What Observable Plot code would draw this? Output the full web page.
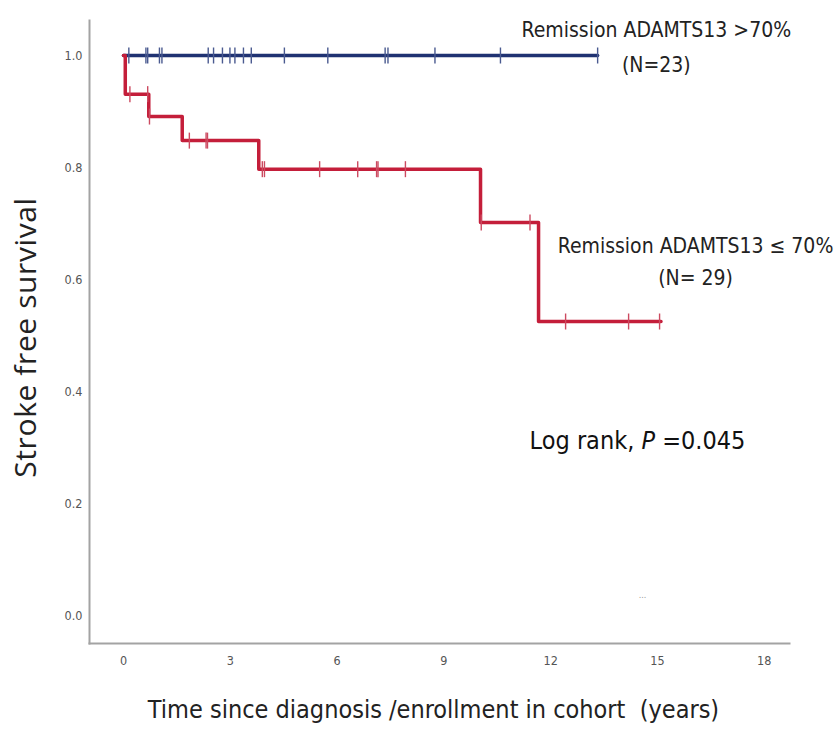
<!DOCTYPE html>
<html>
<head>
<meta charset="utf-8">
<script src="https://cdn.jsdelivr.net/npm/d3@7"></script>
<script src="https://cdn.jsdelivr.net/npm/@observablehq/plot@0.6"></script>
<style>
  html, body { margin: 0; padding: 0; background: #fff; }
  #chart svg { display: block; }
</style>
</head>
<body>
<div id="chart"></div>
<script>
// ---- Data ----
// Group 1: Remission ADAMTS13 >70% (N=23) — no events
const highTimes = [0];
const highSurv = [1.0];
const highEnd = 13.32;
const highCensor = [0.15, 0.63, 0.68, 1.01, 1.08, 2.38, 2.53, 2.78, 2.99, 3.13, 3.37, 3.59,
                    4.52, 5.74, 7.35, 7.43, 8.75, 10.59, 13.32];

// Group 2: Remission ADAMTS13 <= 70% (N=29)
const lowTimes = [0, 0.05, 0.71, 1.65, 3.80, 10.03, 11.66];
const lowSurv = [1.0, 0.931, 0.891, 0.848, 0.797, 0.702, 0.525];
const lowEnd = 15.1;
const lowCensor = [0.18, 0.68, 0.73, 1.85, 2.32, 2.36, 3.90, 3.96, 5.51, 6.58, 7.11, 7.15, 7.92,
                   10.05, 11.42, 12.42, 14.19, 15.06];

const xTicks = [0, 3, 6, 9, 12, 15, 18];
const yTicks = [0, 0.2, 0.4, 0.6, 0.8, 1.0];

const highLabel = ["Remission ADAMTS13 >70%", "(N=23)"];
const lowLabel = ["Remission ADAMTS13 \u2264 70%", "(N= 29)"];
const testLabel = "Log rank, P =0.045";
const xTitle = "Time since diagnosis /enrollment in cohort  (years)";
const yTitle = "Stroke free survival";

// ---- Build tables ----
function steps(times, surv, end, group) {
  const rows = times.map((t, i) => ({t, s: surv[i], group}));
  rows.push({t: end, s: surv[surv.length - 1], group});
  return rows;
}
function survAt(times, surv, t) {
  let s = surv[0];
  for (let i = 0; i < times.length; i++) if (times[i] <= t) s = surv[i];
  return s;
}
const curves = [...steps(highTimes, highSurv, highEnd, "high"), ...steps(lowTimes, lowSurv, lowEnd, "low")];
const censors = [
  ...highCensor.map(t => ({t, s: survAt(highTimes, highSurv, t), group: "high"})),
  ...lowCensor.map(t => ({t, s: survAt(lowTimes, lowSurv, t), group: "low"}))
];

const colors = {high: "#1f3272", low: "#c41e3a"};
const tickColors = {high: "#4a5a90", low: "#cc4a60"};

const vbar = { draw(ctx, size) { const h = Math.sqrt(size / Math.PI); ctx.moveTo(0, -h); ctx.lineTo(0, h); } };

const narrow = "'Liberation Sans Narrow', 'DejaVu Sans Condensed', 'Liberation Sans', sans-serif";

const chart = Plot.plot({
  width: 834,
  height: 736,
  marginLeft: 89,
  marginRight: 45,
  marginTop: 20,
  marginBottom: 93,
  x: {domain: [-0.955, 18.71]},
  y: {domain: [-0.05, 1.0625]},
  style: {background: "#fff", fontFamily: narrow},
  marks: [
    Plot.axisY({ticks: yTicks, tickFormat: d3.format(".1f"), tickSize: 0, tickPadding: 7,
                fontSize: 12.5, fill: "#555", label: null}),
    Plot.axisX({ticks: xTicks, tickSize: 0, tickPadding: 13, fontSize: 12.5, fill: "#555", label: null}),
    Plot.frame({anchor: "left", stroke: "#a3a3a3", strokeWidth: 2}),
    Plot.frame({anchor: "bottom", stroke: "#a3a3a3", strokeWidth: 2}),
    Plot.line(curves, {x: "t", y: "s", z: "group", curve: "step-after",
                       stroke: d => colors[d.group], strokeWidth: 3.5}),
    Plot.dot(censors, {x: "t", y: "s", symbol: vbar, r: 8, strokeWidth: 1.4,
                       stroke: d => tickColors[d.group]}),
    Plot.text([highLabel[0]], {x: 14.97, y: 1.045, fontSize: 21, fill: "#222", fontFamily: narrow}),
    Plot.text([highLabel[1]], {x: 14.97, y: 0.982, fontSize: 21, fill: "#222", fontFamily: narrow}),
    Plot.text([lowLabel[0]], {x: 16.07, y: 0.659, fontSize: 21, fill: "#222", fontFamily: narrow}),
    Plot.text([lowLabel[1]], {x: 16.07, y: 0.602, fontSize: 21, fill: "#222", fontFamily: narrow}),
    Plot.text([testLabel], {x: 14.44, y: 0.3125, fontSize: 25, fill: "#111", fontFamily: narrow}),
    Plot.text(["..."], {x: 14.58, y: 0.036, fontSize: 9, fill: "#999"}),
    Plot.text([yTitle], {frameAnchor: "left", textAnchor: "middle", dx: -63, dy: 5.5, rotate: -90,
                         fontSize: 30, fill: "#222",
                         fontFamily: "'Open Sans', 'Noto Sans', sans-serif"}),
    Plot.text([xTitle], {frameAnchor: "bottom", dx: -6, dy: 74, fontSize: 25, fill: "#222", fontFamily: narrow})
  ]
});

// y title letter spacing; italic P in the log-rank annotation
d3.select(chart).selectAll("text").each(function() {
  const el = d3.select(this);
  if (el.text() === yTitle) el.attr("letter-spacing", "0.6");
  if (el.text() === testLabel) {
    el.text(null);
    el.append("tspan").text("Log rank, ");
    el.append("tspan").attr("font-style", "italic").text("P");
    el.append("tspan").text(" =0.045");
  }
});

document.getElementById("chart").appendChild(chart);
</script>
</body>
</html>
